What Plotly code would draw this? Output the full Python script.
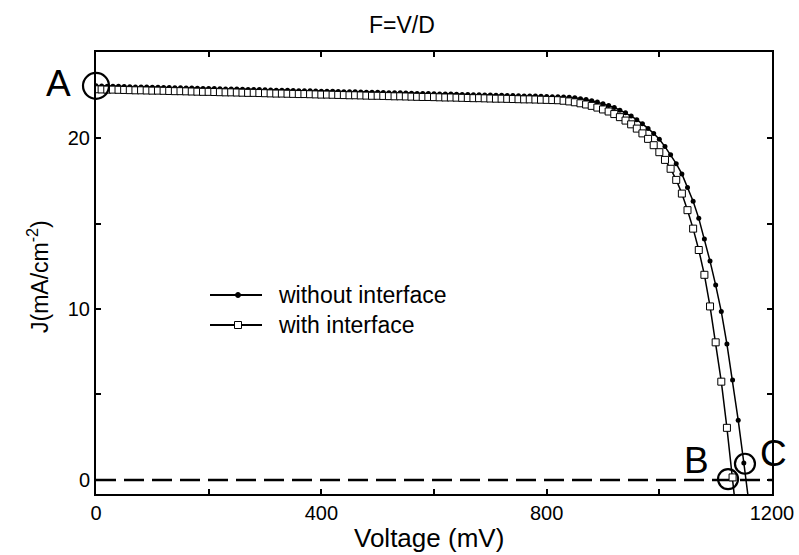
import plotly.graph_objects as go

# ---------------- data ----------------
voltage = [0, 10, 20, 30, 40, 50, 60, 70, 80, 90,
           100, 110, 120, 130, 140, 150, 160, 170, 180, 190,
           200, 210, 220, 230, 240, 250, 260, 270, 280, 290,
           300, 310, 320, 330, 340, 350, 360, 370, 380, 390,
           400, 410, 420, 430, 440, 450, 460, 470, 480, 490,
           500, 510, 520, 530, 540, 550, 560, 570, 580, 590,
           600, 610, 620, 630, 640, 650, 660, 670, 680, 690,
           700, 710, 720, 730, 740, 750, 760, 770, 780, 790,
           800, 810, 820, 830, 840, 850, 860, 870, 880, 890,
           900, 910, 920, 930, 940, 950, 960, 970, 980, 990,
           1000, 1010, 1020, 1030, 1040, 1050, 1060, 1070, 1080, 1090,
           1100, 1110, 1120, 1130, 1140, 1150, 1160]

j_without = [23.05, 23.04, 23.03, 23.03, 23.02, 23.01, 23.00, 22.99, 22.99, 22.98,
             22.97, 22.97, 22.96, 22.95, 22.94, 22.94, 22.93, 22.92, 22.91, 22.90,
             22.90, 22.89, 22.88, 22.87, 22.87, 22.86, 22.85, 22.84, 22.84, 22.83,
             22.82, 22.81, 22.80, 22.80, 22.79, 22.78, 22.77, 22.77, 22.76, 22.75,
             22.74, 22.74, 22.73, 22.72, 22.71, 22.70, 22.70, 22.69, 22.68, 22.67,
             22.67, 22.66, 22.65, 22.64, 22.64, 22.63, 22.62, 22.61, 22.60, 22.60,
             22.59, 22.58, 22.57, 22.57, 22.56, 22.55, 22.54, 22.53, 22.53, 22.52,
             22.51, 22.50, 22.50, 22.49, 22.48, 22.47, 22.46, 22.46, 22.45, 22.44,
             22.43, 22.42, 22.41, 22.40, 22.38, 22.35, 22.30, 22.25, 22.18, 22.10,
             22.00, 21.90, 21.78, 21.63, 21.47, 21.28, 21.07, 20.83, 20.56, 20.26,
             19.93, 19.50, 19.02, 18.50, 17.90, 17.10, 16.30, 15.30, 14.10, 12.80,
             11.40, 9.85, 7.95, 5.85, 3.50, 1.00, -1.60]

j_with = [22.85, 22.84, 22.83, 22.83, 22.82, 22.81, 22.80, 22.79, 22.79, 22.78,
          22.77, 22.77, 22.76, 22.75, 22.74, 22.74, 22.73, 22.72, 22.71, 22.70,
          22.70, 22.69, 22.68, 22.67, 22.67, 22.66, 22.65, 22.64, 22.64, 22.63,
          22.62, 22.61, 22.60, 22.60, 22.59, 22.58, 22.57, 22.57, 22.56, 22.55,
          22.54, 22.54, 22.53, 22.52, 22.51, 22.50, 22.50, 22.49, 22.48, 22.47,
          22.47, 22.46, 22.45, 22.44, 22.44, 22.43, 22.42, 22.41, 22.40, 22.40,
          22.39, 22.38, 22.37, 22.37, 22.36, 22.35, 22.34, 22.33, 22.33, 22.32,
          22.31, 22.30, 22.30, 22.29, 22.28, 22.27, 22.26, 22.26, 22.25, 22.24,
          22.23, 22.22, 22.21, 22.18, 22.14, 22.09, 22.03, 21.96, 21.88, 21.78,
          21.67, 21.55, 21.40, 21.22, 21.02, 20.80, 20.55, 20.27, 19.95, 19.58,
          19.17, 18.72, 18.20, 17.55, 16.75, 15.78, 14.70, 13.45, 12.00, 10.15,
          8.05, 5.75, 3.05, 0.15, -3.00, None, None]

series_names = ["without interface", "with interface"]

# highlighted points A, B, C
mark_labels = ["A", "B", "C"]
mark_v = [0, 1122, 1152]
mark_j = [23.05, 0.05, 0.95]
mark_size = [26, 20, 20]

ref_v = [0, 1200]
ref_j = [0, 0]

x_ticks = [0, 400, 800, 1200]
y_ticks = [0, 10, 20]

FONT = "Liberation Sans, Arial, Helvetica, sans-serif"

# plot area in pixels (for placing legend / titles / labels)
L, R, T, B = 96, 772, 52, 494
W, H = R - L, B - T
label_px = [(58, 84), (696, 460), (773, 453)]


def px(x):
    return (x - L) / W


def py(y):
    return (B - y) / H


fig = go.Figure()

fig.add_trace(go.Scatter(
    x=ref_v, y=ref_j, mode="lines", showlegend=False,
    line=dict(color="black", width=2.5, dash="20px,8px"), hoverinfo="skip"))

fig.add_trace(go.Scatter(
    x=voltage, y=j_without, mode="lines+markers", name=series_names[0],
    showlegend=False,
    line=dict(color="black", width=1.5),
    marker=dict(symbol="circle", size=5, color="black")))

fig.add_trace(go.Scatter(
    x=voltage, y=j_with, mode="lines+markers", name=series_names[1],
    showlegend=False,
    line=dict(color="black", width=1.5),
    marker=dict(symbol="square", size=7, color="white",
                line=dict(color="black", width=1))))

fig.add_trace(go.Scatter(
    x=mark_v, y=mark_j, mode="markers", showlegend=False, cliponaxis=False,
    marker=dict(symbol="circle-open", size=mark_size, color="black", opacity=1,
                line=dict(color="black", width=2.2)), hoverinfo="skip"))

axis_common = dict(
    showgrid=False, zeroline=False, showline=True, linecolor="black",
    linewidth=2, mirror="ticks", ticks="inside", ticklen=5, tickwidth=1.5,
    tickcolor="black", automargin=False,
    tickfont=dict(family=FONT, size=20, color="black"))

fig.update_xaxes(range=[0, 1200], tickvals=x_ticks,
                 minor=dict(dtick=200, ticks="inside", ticklen=5, tickwidth=1.5,
                            tickcolor="black"),
                 **axis_common)
fig.update_yaxes(range=[-0.82, 25.03], tickvals=y_ticks,
                 minor=dict(dtick=5, ticks="inside", ticklen=5, tickwidth=1.5,
                            tickcolor="black"),
                 **axis_common)

annotations = [
    dict(text="F=V/D", x=px(402), y=py(25), xref="paper", yref="paper",
         xanchor="center", yanchor="middle", showarrow=False,
         font=dict(family=FONT, size=23)),
    dict(text="Voltage (mV)", x=px(429), y=py(538), xref="paper", yref="paper",
         xanchor="center", yanchor="middle", showarrow=False,
         font=dict(family=FONT, size=26)),
    dict(text="J(mA/cm<sup>-2</sup>)", x=px(38), y=py(277), xref="paper",
         yref="paper", textangle=-90, xanchor="center", yanchor="middle",
         showarrow=False, font=dict(family=FONT, size=23)),
]
for lab, (lx, ly) in zip(mark_labels, label_px):
    annotations.append(dict(text=lab, x=px(lx), y=py(ly), xref="paper",
                            yref="paper", showarrow=False, xanchor="center",
                            yanchor="middle",
                            font=dict(family=FONT, size=37, color="black")))

# custom legend (line sample with marker, then label)
leg_rows = [295, 325]
shapes = []
for i, (name, yrow) in enumerate(zip(series_names, leg_rows)):
    shapes.append(dict(type="line", xref="paper", yref="paper",
                       x0=px(210), x1=px(262), y0=py(yrow), y1=py(yrow),
                       line=dict(color="black", width=1.8)))
    if i == 0:
        shapes.append(dict(type="circle", xref="paper", yref="paper",
                           x0=px(235.5), x1=px(240.5), y0=py(yrow + 2.5),
                           y1=py(yrow - 2.5), fillcolor="black",
                           line=dict(color="black", width=1)))
    else:
        shapes.append(dict(type="rect", xref="paper", yref="paper",
                           x0=px(234.5), x1=px(241.5), y0=py(yrow + 3.5),
                           y1=py(yrow - 3.5), fillcolor="white",
                           line=dict(color="black", width=1)))
    annotations.append(dict(text=name, x=px(276), y=py(yrow), xref="paper",
                            yref="paper", xanchor="left", yanchor="middle",
                            showarrow=False,
                            font=dict(family=FONT, size=23, color="black")))

fig.update_layout(
    width=799, height=555,
    margin=dict(l=L, r=799 - R, t=T, b=555 - B, autoexpand=False),
    plot_bgcolor="white", paper_bgcolor="white",
    font=dict(family=FONT, color="black"),
    showlegend=False,
    annotations=annotations,
    shapes=shapes,
)

fig.write_html("out.html",
               config={"displayModeBar": False},
               post_script="document.body.style.margin='0px';"
                           "document.body.style.overflow='hidden';")
